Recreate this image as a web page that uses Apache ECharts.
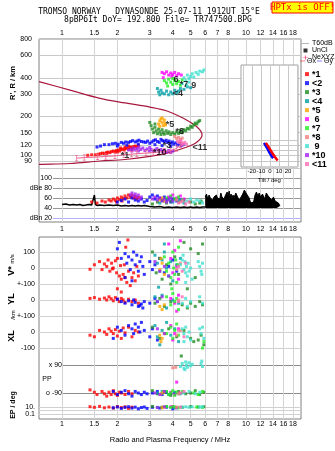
<!DOCTYPE html>
<html><head><meta charset="utf-8">
<script src="https://cdn.jsdelivr.net/npm/echarts@6/dist/echarts.min.js"></script>
<style>html,body{margin:0;padding:0;background:#fff}#c{width:335px;height:451px}</style>
</head><body><div id="c"></div>
<script>
// ---------- tick labels ----------
const FREQ_TICKS=[1,1.5,2,3,4,5,6,7,8,10,12,14,16,18];
const HEIGHT_TICKS=[80,90,100,120,150,200,300,400,600,800];
const DBE_TICKS=[20,40,60,80,100];
const TILT_TICKS=[-20,-10,0,10,20];
const TILT_GRID=[-30,-20,-10,0,10,20,30];
const INSET_HEIGHT_GRID=[90,100,110,120,130];
const VSTAR_TICKS=[100,0,-100];
const YL_TICKS=[100,0];
const XL_TICKS=[100,0,-100];
const PP_TICKS=[90,-90];
const EP_TICKS=[10,1,0.1];
const TRACES=['*1','<2','*3','<4','*5',' 6','*7','*8',' 9','*10','<11'];

// ---------- virtual height (f MHz, h km) ----------
const height_1=[[1.38,100],[1.45,101],[1.52,101],[1.58,102],[1.62,103],[1.66,104],[1.70,103],[1.74,105],[1.78,106],[1.82,105],[1.86,107],[1.90,108],[1.94,107],[1.98,109],[2.02,110],[2.06,108],[2.10,111],[2.14,112],[2.18,110],[2.22,113],[2.26,114],[2.30,112],[2.34,115],[2.38,116],[2.42,114],[2.46,117],[2.50,118],[2.55,116],[2.60,119],[2.08,114],[2.20,116],[2.30,118],[1.75,103],[2.00,106],[2.40,111]];
const height_2=[[1.55,116],[1.62,118],[1.70,121],[1.80,121],[1.88,123],[1.95,124],[2.02,122],[2.10,126],[2.16,124],[2.22,127],[2.30,126],[2.36,128],[2.42,130],[2.50,127],[2.56,129],[2.62,131],[2.70,128],[2.78,127],[2.85,126],[2.92,129],[3.00,124],[3.08,127],[3.15,130],[3.22,132],[3.30,128],[3.38,126],[3.45,133],[3.52,130],[3.60,128],[3.68,131],[3.75,126],[3.82,129],[3.90,124],[3.98,127],[4.05,122],[4.15,125],[4.25,120],[4.35,123],[4.45,119],[4.55,121],[2.00,118],[2.25,120],[2.60,122],[3.20,121],[3.50,119],[3.90,117]];
const height_3=[[3.05,170],[3.10,160],[3.15,150],[3.20,165],[3.25,155],[3.30,147],[3.35,160],[3.40,152],[3.45,145],[3.50,158],[3.55,150],[3.60,146],[3.68,155],[3.75,148],[3.82,152],[3.90,145],[4.00,150],[4.10,146],[4.20,152],[4.30,148],[4.40,155],[4.50,150],[4.60,158],[4.70,155],[4.80,162],[4.90,160],[5.00,168],[5.10,165],[5.20,172],[5.30,178],[5.40,175],[5.50,182],[5.60,186],[3.00,180],[3.20,175]];
const height_4=[[3.30,330],[3.35,310],[3.40,295],[3.45,320],[3.50,305],[3.60,300],[3.70,315],[3.80,295],[3.90,310],[4.00,300],[4.10,320],[4.20,305],[4.30,315],[4.40,330],[4.60,325],[4.80,340],[5.00,335]];
const height_5=[[3.35,175],[3.40,185],[3.45,192],[3.50,180],[3.55,170],[3.60,188],[3.62,178],[3.50,195],[3.40,168],[3.65,172]];
const height_6=[[3.50,440],[3.60,430],[3.70,445],[3.80,420],[3.90,435],[4.00,425],[4.10,440],[4.20,415],[4.30,430],[4.45,420],[3.55,400],[3.95,410]];
const height_7=[[3.60,380],[3.70,365],[3.80,390],[3.90,370],[4.00,355],[4.10,380],[4.20,360],[4.30,375],[4.40,350],[3.75,345],[4.00,395],[4.50,385]];
const height_8=[[4.20,135],[4.30,138],[4.40,133],[4.50,136],[4.10,140]];
const height_9=[[4.60,400],[4.70,380],[4.80,420],[4.90,395],[5.00,410],[5.10,430],[5.20,405],[5.35,440],[5.50,425],[5.60,450],[5.80,445],[5.90,460],[4.50,360],[4.75,350],[4.90,370]];
const height_10=[[2.30,110],[2.38,112],[2.45,114],[2.50,110],[2.56,113],[2.62,116],[2.68,111],[2.75,114],[2.82,109],[2.90,112],[2.98,108],[3.05,111],[3.12,107],[3.20,110],[3.28,113],[3.36,108],[3.44,111],[3.52,107],[3.60,110],[3.70,106],[3.80,109],[3.90,105],[4.00,108],[2.60,108],[2.40,108],[3.00,115]];
const height_11=[[4.25,128],[4.35,125],[4.45,127],[4.55,123],[4.65,126],[4.75,122],[4.50,120],[4.40,130]];
const trace_labels=[[2.2,100,'*1'],[3.86,172,'*5'],[4.37,152,'*8'],[3.4,106,'*10'],[5.62,116,'<11'],[5.2,347,'9'],[4.27,300,'<4'],[4.6,354,'*7'],[4.16,391,'6'],[3.72,120,'*3']];
const profile_curve=[[0.75,373],[1.105,321],[1.61,277],[2.2,255],[3.0,237],[3.72,221],[4.54,195],[5.42,166],[5.77,144],[5.42,127],[4.78,116],[3.72,104],[3.0,98],[2.2,92.8],[1.61,90.3],[1.105,86.4],[0.75,85.1]];
const ne_xyz=[[1.2,95],[1.32,96],[1.56,97],[1.73,98],[1.94,99],[2.17,101],[2.39,102],[2.55,103],[2.86,104],[3.13,105],[3.34,106],[3.6,107],[3.9,109],[4.2,113],[4.4,120]];

// ---------- tilt inset (deg, km) ----------
const tilt_x=[[-4.5,125],[-3.5,122],[-2.5,119],[-1.5,116],[-0.5,113],[0.5,110],[1.5,107],[2.5,104],[3.5,102],[4.5,99],[5.5,97],[6.5,95],[7.5,93],[8.5,91]];
const tilt_y=[[-6.5,125],[-5.5,122],[-4.5,118],[-3.5,115],[-2.5,112],[-1.5,108],[-0.5,105],[0.5,102],[1.5,100],[2.5,97],[3.5,95]];

// ---------- amplitude dBe ----------
const noise_line=[[1.0,47],[1.05,48],[1.1,46],[1.15,47],[1.2,46],[1.25,47],[1.3,45],[1.35,46],[1.4,47],[1.45,46],[1.48,47],[1.5,66],[1.52,47],[1.56,45],[1.6,46],[1.7,45],[1.8,46],[1.9,45],[2.0,46],[2.1,44],[2.2,45],[2.3,44],[2.4,45],[2.5,44],[2.6,45],[2.7,44],[2.8,45],[2.9,44],[3.0,43],[3.2,42],[3.4,43],[3.6,41],[3.8,42],[4.0,41],[4.2,42],[4.4,41],[4.6,42],[4.8,41],[5.0,42],[5.2,41],[5.4,42],[5.6,41],[5.8,42],[6.0,42]];
const noise_block=[[6.0,62],[6.1,68],[6.2,58],[6.3,66],[6.4,60],[6.5,64],[6.6,56],[6.7,62],[6.8,58],[6.9,66],[7.0,60],[7.1,64],[7.2,58],[7.3,70],[7.4,62],[7.5,66],[7.6,58],[7.7,64],[7.8,60],[7.9,72],[8.0,64],[8.1,74],[8.2,62],[8.3,68],[8.4,58],[8.5,66],[8.6,60],[8.8,70],[9.0,62],[9.2,56],[9.4,52],[9.6,68],[9.8,76],[10.0,70],[10.2,74],[10.4,60],[10.6,50],[10.8,48],[11.0,52],[11.2,66],[11.4,72],[11.6,64],[11.8,70],[12.0,62],[12.3,68],[12.6,58],[12.9,70],[13.2,64],[13.5,60],[13.8,56],[14.1,62],[14.4,54],[14.7,58],[15.0,50],[15.3,44]];
const dbe_1=[[1.45,52],[1.55,50],[1.65,54],[1.72,52],[1.8,56],[1.85,54],[1.9,58],[1.95,55],[2.0,60],[2.05,57],[2.1,62],[2.15,59],[2.2,64],[2.25,60],[2.3,66],[2.35,62],[2.4,65],[2.45,60],[2.5,63],[2.55,58],[2.6,61],[1.98,52],[2.12,54]];
const dbe_2=[[2.0,52],[2.1,55],[2.2,58],[2.3,52],[2.4,60],[2.5,56],[2.6,54],[2.7,58],[2.8,52],[2.9,55],[3.0,62],[3.1,66],[3.2,58],[3.3,64],[3.4,60],[3.5,55],[3.6,62],[3.7,57],[3.8,60],[3.9,52],[4.0,58],[4.2,54],[4.4,56]];
const dbe_3=[[3.1,48],[3.3,52],[3.5,56],[3.7,50],[3.9,54],[4.1,58],[4.3,52],[4.6,56],[5.0,52],[5.3,48],[5.6,50],[5.7,54]];
const dbe_4=[[3.4,50],[3.6,54],[3.8,58],[4.0,52],[4.3,56],[4.6,50]];
const dbe_5=[[3.4,56],[3.5,60],[3.6,54]];
const dbe_6=[[3.8,62],[4.0,66],[4.2,60],[4.4,64],[4.6,58]];
const dbe_7=[[3.7,60],[3.9,64],[4.1,58],[4.3,62],[4.5,56]];
const dbe_8=[[4.2,56],[4.4,52]];
const dbe_9=[[4.8,54],[5.0,58],[5.2,52],[5.4,56],[5.6,54],[5.8,50]];
const dbe_10=[[2.35,66],[2.4,70],[2.45,64],[2.5,68],[2.55,62],[2.6,66],[2.65,58],[2.7,62],[3.1,58],[3.2,62],[3.3,56],[3.4,60],[3.5,54],[3.6,58],[3.7,52],[3.8,56],[3.9,60],[4.0,54]];
const dbe_11=[[4.3,50],[4.5,54],[4.7,48],[4.9,52]];

// ---------- V* m/s ----------
const vstar_1=[[1.42,-8],[1.5,20],[1.6,40],[1.65,-10],[1.7,25],[1.75,10],[1.78,50],[1.82,-20],[1.86,30],[1.9,0],[1.95,45],[1.98,-30],[2.0,60],[2.05,-50],[2.08,15],[2.1,-70],[2.15,-40],[2.18,20],[2.2,-60],[2.25,-90],[2.28,175],[2.3,-20],[2.35,-110],[2.4,-60],[2.45,-30],[2.5,-80],[2.55,10],[2.6,-50],[2.0,-130],[2.1,-150],[1.88,-5],[2.22,130]];
const vstar_2=[[2.0,120],[2.05,160],[2.1,60],[2.2,90],[2.25,30],[2.3,70],[2.35,-10],[2.4,50],[2.45,100],[2.5,20],[2.55,80],[2.6,-20],[2.65,40],[2.7,70],[2.75,10],[2.8,-40],[2.2,-60],[2.4,-80],[3.0,40],[3.1,-10],[3.2,20],[3.4,60],[3.6,-30],[3.8,10],[4.0,50],[4.2,-20]];
const vstar_3=[[3.1,100],[3.25,-30],[3.4,60],[3.5,-70],[3.7,20],[3.9,-100],[4.1,70],[4.3,-40],[4.6,160],[5.0,120],[5.5,90],[5.8,150],[5.3,-60],[4.8,-130]];
const vstar_4=[[3.2,80],[3.3,30],[3.4,-20],[3.5,50],[3.6,100],[3.7,0],[3.8,-50],[3.9,40],[4.0,-80],[4.2,20],[4.4,60],[3.35,-120],[3.6,150]];
const vstar_5=[[3.4,-10],[3.5,30],[3.6,-40],[3.45,60]];
const vstar_6=[[3.8,150],[3.9,60],[4.0,-30],[4.1,110],[4.2,10],[4.3,-70],[4.4,170]];
const vstar_7=[[3.6,70],[3.7,-20],[3.8,30],[3.9,-60],[4.0,100],[4.05,0],[4.1,-40],[4.15,50],[4.2,-90],[4.25,20],[4.3,130],[3.95,-130]];
const vstar_8=[[4.2,-10],[4.4,30]];
const vstar_9=[[4.4,20],[4.5,50],[4.6,-10],[4.65,40],[4.7,-30],[4.75,10],[4.8,-50],[4.85,30],[4.9,-20],[5.0,0],[5.5,40],[5.6,10],[5.7,-20],[5.8,30],[5.75,-40],[4.7,-90],[5.1,-70],[4.55,80]];
const vstar_10=[[3.2,40],[3.4,-20],[3.6,10],[3.8,-50]];
const vstar_11=[[4.3,10],[4.5,-20],[4.7,30]];

// ---------- YL km ----------
const yl_1=[[1.42,10],[1.5,15],[1.6,5],[1.7,12],[1.75,0],[1.8,20],[1.85,8],[1.9,-5],[1.95,15],[2.0,5],[2.05,-10],[2.1,10],[2.15,0],[2.2,-15],[2.3,5],[2.4,-10],[2.5,0],[2.6,-20]];
const yl_2=[[2.0,5],[2.1,-10],[2.2,-20],[2.3,-5],[2.4,-30],[2.5,-15],[2.6,-40],[2.7,-25],[2.8,-10],[2.75,-50],[2.45,0],[2.65,-35],[3.0,-20],[3.2,10]];
const yl_3=[[3.2,-20],[3.4,10],[3.6,-40],[3.9,-10],[4.5,-30],[4.8,-50],[5.0,-20],[5.3,-40],[5.6,-10],[5.8,-30]];
const yl_4=[[3.2,20],[3.3,-10],[3.5,30],[3.7,-50],[4.0,0],[4.3,-20]];
const yl_5=[[3.4,-40],[3.5,-60],[3.6,-30]];
const yl_6=[[3.9,10],[4.1,-20],[4.3,30],[4.2,-70]];
const yl_7=[[3.7,20],[3.9,-30],[4.0,40],[4.1,-10],[4.2,10],[4.3,-60]];
const yl_8=[[4.3,0]];
const yl_9=[[4.5,-20],[4.7,10],[4.8,-40],[5.0,-10],[5.6,20],[5.8,-20]];
const yl_10=[[3.3,-10],[3.5,20]];
const yl_11=[[4.3,-10],[4.5,20]];

// ---------- XL km ----------
const xl_1=[[1.42,-20],[1.5,-30],[1.6,10],[1.7,0],[1.75,-15],[1.8,20],[1.85,5],[1.9,-10],[1.95,15],[2.0,-25],[2.05,5],[2.1,-40],[2.15,25],[2.2,-5],[2.3,30],[2.4,-30],[2.5,10],[2.6,0]];
const xl_2=[[1.9,-40],[2.0,30],[2.1,10],[2.2,-20],[2.3,40],[2.4,20],[2.5,50],[2.6,30],[2.7,60],[2.8,10],[2.45,-10],[2.65,0],[3.0,-30],[3.1,20],[3.3,-50]];
const xl_3=[[3.1,30],[3.4,-40],[3.8,20],[4.2,-30],[4.6,10],[5.0,-40],[5.2,-60],[5.5,-50],[5.7,-20],[5.9,-80]];
const xl_4=[[3.2,40],[3.3,-30],[3.5,10],[3.7,60],[3.9,-20],[4.1,20],[4.3,-60],[3.4,-80]];
const xl_5=[[3.4,-20],[3.5,-40],[3.6,-10],[3.45,-60]];
const xl_6=[[3.9,40],[4.1,-10],[4.3,20],[4.0,-50]];
const xl_7=[[3.7,-10],[3.9,30],[4.0,-40],[4.1,10],[4.2,50],[4.3,-20],[5.8,-100],[5.9,-60]];
const xl_8=[[4.2,-20],[4.4,10]];
const xl_9=[[4.5,20],[4.6,-10],[4.7,30],[4.8,-30],[4.9,0],[5.0,-50],[4.6,-60],[5.6,20],[5.7,-10],[5.8,30],[5.9,-40]];
const xl_10=[[3.3,20],[3.6,-10]];
const xl_11=[[4.3,10],[4.6,-30]];

// ---------- PP deg ----------
const pp_1=[[1.42,-70],[1.5,-85],[1.55,-100],[1.65,-80],[1.7,-95],[1.75,-110],[1.8,-85],[1.85,-100],[1.9,-75],[1.95,-95],[2.0,-105],[2.05,-85],[2.1,-90],[2.2,-100],[2.3,-80],[2.4,-95]];
const pp_2=[[1.9,-80],[2.0,-100],[2.1,-85],[2.2,-75],[2.3,-95],[2.4,-110],[2.5,-80],[2.6,-90],[2.7,-100],[2.8,-85],[2.9,-95],[3.1,-90],[3.3,-80],[3.5,-100],[3.7,-85],[3.9,-95],[4.1,-90]];
const pp_3=[[3.1,-75],[3.3,-95],[3.6,-85],[3.9,-105],[4.3,-80],[4.7,-95],[5.0,-90],[5.3,-75],[5.6,-100],[5.9,-85],[4.45,148]];
const pp_4=[[3.3,-90],[3.5,-80],[3.8,-100],[4.1,-85],[4.4,-95]];
const pp_5=[[3.45,-95],[3.55,-85]];
const pp_6=[[3.9,-85],[4.1,-100],[4.3,-90],[4.2,-20]];
const pp_7=[[3.7,-80],[3.8,-100],[3.9,-90],[4.0,-75],[4.1,-105],[4.2,-85],[4.3,-95],[4.5,-80],[5.2,-90],[5.5,-100],[5.8,-80]];
const pp_8=[[4.0,72],[4.15,75],[4.3,-95]];
const pp_9=[[4.4,80],[4.5,100],[4.6,70],[4.7,110],[4.75,90],[4.8,75],[4.9,105],[5.0,85],[5.1,95],[4.65,60],[5.7,100],[5.8,80],[5.75,115],[4.6,-90],[4.9,-80],[5.3,-95],[5.6,-85]];
const pp_10=[[3.2,-90],[3.4,-100],[3.6,-80]];
const pp_11=[[4.4,-90],[4.6,-80]];

// ---------- EP deg ----------
const ep_1=[[1.42,12],[1.5,8],[1.6,15],[1.7,6],[1.8,10],[1.9,5],[2.0,14],[2.1,7],[2.2,11],[2.3,4],[2.4,9]];
const ep_2=[[1.9,6],[2.0,10],[2.1,4],[2.2,8],[2.3,12],[2.4,5],[2.5,9],[2.6,3],[2.7,7],[2.8,10],[2.9,4],[3.1,8],[3.4,5],[3.7,9],[4.0,3],[4.2,6]];
const ep_3=[[3.1,15],[3.5,9],[4.0,12],[4.5,8],[5.0,14],[5.5,10],[5.9,12]];
const ep_4=[[3.3,8],[3.7,12],[4.1,6]];
const ep_5=[[3.5,6],[3.6,10]];
const ep_6=[[3.9,12],[4.2,7]];
const ep_7=[[3.7,14],[3.9,8],[4.1,11],[4.3,6],[5.4,10],[5.8,8]];
const ep_8=[[4.2,9]];
const ep_9=[[4.5,9],[4.7,12],[4.9,8],[5.1,11],[5.6,10],[5.8,12]];
const ep_10=[[3.3,7],[3.6,11]];
const ep_11=[[4.4,10]];

// ---------- build ----------
const COLORS=['#ff0000','#0000ff','#228b22','#00a0a8','#ffa500','#ff00ff','#22ee22','#f08080','#40e0d0','#a020f0','#ff69b4'];
const HEIGHT=[height_1,height_2,height_3,height_4,height_5,height_6,height_7,height_8,height_9,height_10,height_11];
const DBE=[dbe_1,dbe_2,dbe_3,dbe_4,dbe_5,dbe_6,dbe_7,dbe_8,dbe_9,dbe_10,dbe_11];
const VSTAR=[vstar_1,vstar_2,vstar_3,vstar_4,vstar_5,vstar_6,vstar_7,vstar_8,vstar_9,vstar_10,vstar_11];
const YL=[yl_1,yl_2,yl_3,yl_4,yl_5,yl_6,yl_7,yl_8,yl_9,yl_10,yl_11];
const XL=[xl_1,xl_2,xl_3,xl_4,xl_5,xl_6,xl_7,xl_8,xl_9,xl_10,xl_11];
const PP=[pp_1,pp_2,pp_3,pp_4,pp_5,pp_6,pp_7,pp_8,pp_9,pp_10,pp_11];
const EP=[ep_1,ep_2,ep_3,ep_4,ep_5,ep_6,ep_7,ep_8,ep_9,ep_10,ep_11];

const lg=Math.log10;
const id=v=>v;
const FONT='"Liberation Sans", Arial, sans-serif';
const PXD=184;               // px per decade of frequency
const fx=px=>(px-62)/PXD;    // frame pixel -> log10(f)
const X_MAX=fx(301);
const fmtF=v=>String(Math.round(Math.pow(10,v)*10)/10);
const fmtH=v=>String(Math.round(Math.pow(10,v)));

function xAxisDef(grid,minPx,extra){
  return Object.assign({gridIndex:grid,type:'value',min:fx(minPx),max:X_MAX,
    axisLine:{show:false},axisTick:{show:false,customValues:FREQ_TICKS.map(lg)},
    axisLabel:{show:false,customValues:FREQ_TICKS.map(lg),formatter:fmtF,fontSize:7,fontFamily:FONT,color:'#000'},
    splitLine:{show:false}},extra||{});
}

const xAxis=[
  xAxisDef(0,39,{position:'top',axisLabel:{customValues:FREQ_TICKS.map(lg),formatter:fmtF,fontSize:7,fontFamily:FONT,color:'#000',margin:2},splitLine:{show:true,lineStyle:{color:'#d4d4d4',width:1}}}),
  xAxisDef(0,39,{position:'bottom',axisLabel:{customValues:FREQ_TICKS.map(lg),formatter:fmtF,fontSize:7,fontFamily:FONT,color:'#000',margin:4}}),
  xAxisDef(1,53,{show:false}),
  {gridIndex:2,type:'value',min:-32,max:31,axisLine:{show:false},
    axisTick:{show:false,customValues:TILT_GRID},
    axisLabel:{customValues:TILT_TICKS,fontSize:6,fontFamily:FONT,color:'#000',margin:1},
    splitLine:{show:true,lineStyle:{color:'#c8c8c8'}},
    name:'Tilt / deg',nameLocation:'middle',nameGap:10,nameTextStyle:{fontSize:6,fontFamily:FONT,color:'#000'},z:6},
  xAxisDef(3,39,{position:'bottom',axisLabel:{customValues:FREQ_TICKS.map(lg),formatter:fmtF,fontSize:7,fontFamily:FONT,color:'#000',margin:2},
    splitLine:{show:true,lineStyle:{color:'#d4d4d4'}},
    name:'Radio and Plasma Frequency / MHz',nameLocation:'middle',nameGap:17,nameTextStyle:{fontSize:7.5,fontFamily:FONT,color:'#000'}}),
  xAxisDef(4,39,{show:false}),
  xAxisDef(5,39,{show:false}),
  xAxisDef(6,63,{show:false}),
  xAxisDef(7,39,{show:false})
];

function yDef(grid,min,max,ticks,fmt,margin,lineColor,extra){
  return Object.assign({gridIndex:grid,type:'value',min:min,max:max,axisLine:{show:false},
    axisTick:{show:false,customValues:ticks},
    axisLabel:{customValues:ticks,formatter:fmt,fontSize:7,fontFamily:FONT,color:'#000',margin:margin},
    splitLine:{show:true,lineStyle:{color:lineColor,width:1}}},extra||{});
}
const HMAX=lg(800), HPX=128.8;
const yAxis=[
  yDef(0,HMAX-183/HPX,HMAX,HEIGHT_TICKS.map(lg),fmtH,7,'#c8c8c8'),
  yDef(1,12,106,DBE_TICKS,v=>v===80?'dBe 80':(v===20?'dBn 20':String(v)),1,['#b0b0ff','#999999','#999999','#999999','#999999']),
  yDef(2,HMAX-128/HPX,HMAX-26/HPX,INSET_HEIGHT_GRID.map(lg),fmtH,1,'#c8c8c8',{axisLabel:{show:false,customValues:INSET_HEIGHT_GRID.map(lg)},z:6}),
  yDef(3,-943.75,193.75,VSTAR_TICKS,v=>v===-100?'+-100':String(v),4,'#d0d0d0'),
  yDef(4,-743.75,393.75,YL_TICKS,v=>v===100?'':String(v),4,'#d0d0d0'),
  yDef(5,-543.75,593.75,XL_TICKS,v=>v===100?'+-100':String(v),4,'#d0d0d0'),
  yDef(6,-90-26*180/28,90+128*180/28,PP_TICKS,v=>v===90?'x 90':'o -90',1,'#8c8c8c'),
  yDef(7,-1-5/3.5,1+7/3.5,EP_TICKS.map(lg),v=>(Math.round(v)===1?'10.':(Math.round(v)===-1?'0.1':'')),4,'#d0d0d0')
];

const grid=[
  {left:39,top:39,width:262,height:183,show:true,borderColor:'#808080',borderWidth:1,backgroundColor:'#fff'},
  {left:53,top:175,width:248,height:47},
  {left:241,top:65,width:57,height:102,show:true,borderColor:'#a0a0a0',borderWidth:1,backgroundColor:'#fff',z:5},
  {left:39,top:237,width:262,height:182,show:true,borderColor:'#808080',borderWidth:1,backgroundColor:'#fff'},
  {left:39,top:237,width:262,height:182},
  {left:39,top:237,width:262,height:182},
  {left:63,top:237,width:238,height:182},
  {left:39,top:400,width:262,height:19}
];

const series=[];
// black amplitude trace
series.push({name:'T60dB',type:'line',xAxisIndex:2,yAxisIndex:1,data:noise_line.map(p=>[lg(p[0]),p[1]]),symbol:'none',lineStyle:{color:'#000',width:1.5},z:1});
series.push({name:'T60dB',type:'line',xAxisIndex:2,yAxisIndex:1,data:noise_block.map(p=>[lg(p[0]),p[1]]),symbol:'none',lineStyle:{color:'#000',width:1},areaStyle:{color:'#000',opacity:1,origin:40},z:1});
series.push({name:'UnCl',type:'scatter',xAxisIndex:0,yAxisIndex:0,data:[]});
// model profile curve
series.push({name:'profile',type:'line',xAxisIndex:0,yAxisIndex:0,data:profile_curve.map(p=>[lg(p[0]),lg(p[1])]),symbol:'none',smooth:0.35,lineStyle:{color:'#a8183c',width:1.2},z:1});
series.push({name:'NeXYZ',type:'line',xAxisIndex:0,yAxisIndex:0,data:ne_xyz.map(p=>[lg(p[0]),lg(p[1])]),
  symbol:'path://M0 0h5v1h-2v6h2v1h-5v-1h2v-6h-2z',symbolSize:[3,6],showSymbol:true,lineStyle:{color:'#f06090',width:1},itemStyle:{color:'#f06090'},z:3});

function sc(k,arr,xi,yi,tf){
  return {name:TRACES[k],type:'scatter',xAxisIndex:xi,yAxisIndex:yi,data:arr.map(p=>[lg(p[0]),tf(p[1])]),
    symbol:'rect',symbolSize:3,itemStyle:{color:COLORS[k]},clip:false,z:2};
}
for(let k=0;k<11;k++){
  series.push(sc(k,HEIGHT[k],0,0,lg));
  series.push(sc(k,DBE[k],2,1,id));
  series.push(sc(k,VSTAR[k],4,3,id));
  series.push(sc(k,YL[k],5,4,id));
  series.push(sc(k,XL[k],6,5,id));
  series.push(sc(k,PP[k],7,6,id));
  series.push(sc(k,EP[k],8,7,lg));
}
series.push({name:'labels',type:'scatter',xAxisIndex:0,yAxisIndex:0,data:trace_labels.map(p=>[lg(p[0]),lg(p[1]),p[2]]),
  symbolSize:0,label:{show:true,position:'inside',formatter:p=>p.data[2],fontSize:9,fontWeight:'bold',fontFamily:FONT,color:'#000'},z:4});
// tilt
series.push({name:'Θx',type:'line',xAxisIndex:3,yAxisIndex:2,data:tilt_x.map(p=>[p[0],lg(p[1])]),symbol:'none',lineStyle:{color:'#ff0000',width:2.5},z:8});
series.push({name:'Θy',type:'line',xAxisIndex:3,yAxisIndex:2,data:tilt_y.map(p=>[p[0],lg(p[1])]),symbol:'none',lineStyle:{color:'#0000ff',width:2.5},z:7});

const legend=[
  {orient:'vertical',left:302,top:40,padding:0,itemGap:0,itemWidth:7,itemHeight:4,selectedMode:false,
   textStyle:{fontSize:7,lineHeight:6,fontFamily:FONT,color:'#000',padding:[0,0,0,-2]},
   data:[{name:'T60dB',icon:'path://M0 4h10v1h-10z',itemStyle:{color:'#999'}},
         {name:'UnCl',icon:'path://M4 4h2v2h-2z',itemStyle:{color:'#000'}},
         {name:'NeXYZ',icon:'path://M0 4h10v1h-10zM4 1h2v7h-2z',itemStyle:{color:'#f06090'}}]},
  {orient:'horizontal',left:300,top:57.5,width:40,padding:0,itemGap:1,itemWidth:5,itemHeight:4,selectedMode:false,
   textStyle:{fontSize:7,lineHeight:6,fontFamily:FONT,color:'#000',padding:[0,0,0,-3]},
   data:[{name:'Θx',icon:'path://M0 4h10v1h-10z',itemStyle:{color:'#ff0000'}},{name:'Θy',icon:'path://M0 4h10v1h-10z',itemStyle:{color:'#0000ff'}}]},
  {orient:'vertical',left:305,top:69.6,padding:0,itemGap:0,itemWidth:4,itemHeight:4,selectedMode:false,icon:'rect',
   textStyle:{fontSize:9,fontWeight:'bold',lineHeight:7.4,fontFamily:FONT,color:'#000',padding:[0,0,0,-2]},
   data:TRACES}
];

const rot=Math.PI/2;
const txt=(x,y,text,font,r,align)=>({type:'text',x:x,y:y,rotation:r||0,silent:true,
  style:{text:text,font:font,fill:'#000',align:align||'center',verticalAlign:'middle'}});
const graphic=[
  txt(149,12,'TROMSO NORWAY   DYNASONDE 25-07-11 1912UT 15°E','8px "DejaVu Sans Mono", monospace'),
  txt(158,20,'8pBP6It DoY= 192.800 File= TR747500.BPG','8px "DejaVu Sans Mono", monospace'),
  {type:'rect',shape:{x:272,y:2,width:61,height:11},style:{fill:'#ffff00',stroke:'#ff0000',lineWidth:1},silent:true},
  {type:'text',x:302.5,y:7.8,silent:true,style:{text:'HPTx is OFF!',font:'9px "DejaVu Sans Mono", monospace',fill:'#ff0000',align:'center',verticalAlign:'middle'}},
  txt(13,83,"R', R / km",'bold 7.5px '+FONT,rot),
  txt(12,259,'m/s','6px '+FONT,rot),
  txt(12,271,'V*','bold 9px '+FONT,rot),
  txt(12,299,'YL','bold 9px '+FONT,rot),
  txt(13,315,'/km','6px '+FONT,rot),
  txt(12,336,'XL','bold 9px '+FONT,rot),
  txt(47,379,'PP','7px '+FONT,0),
  txt(13,405,'EP / deg','bold 7px '+FONT,rot)
];

const chart=echarts.init(document.getElementById('c'),null,{renderer:'canvas'});
chart.setOption({animation:false,backgroundColor:'#fff',grid,xAxis,yAxis,series,legend,graphic});
</script></body></html>
